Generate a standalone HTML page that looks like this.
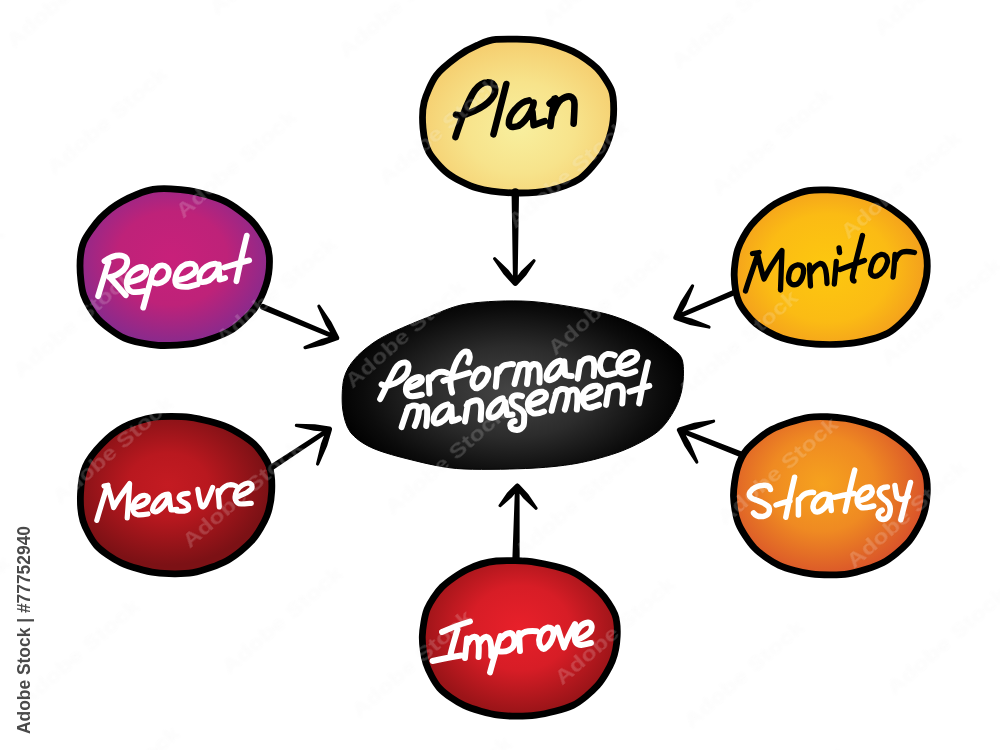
<!DOCTYPE html><html><head><meta charset="utf-8"><style>html,body{margin:0;padding:0;background:#fff;width:1000px;height:750px;overflow:hidden}</style></head><body><svg width="1000" height="750" viewBox="0 0 1000 750" style="display:block;font-family:'Liberation Sans',sans-serif"><defs><radialGradient id="g_plan" gradientUnits="userSpaceOnUse" cx="0" cy="0" r="1" gradientTransform="translate(520 128) scale(110 92)"><stop offset="0" stop-color="#f8ef9e"/><stop offset="0.5" stop-color="#f7e38b"/><stop offset="1" stop-color="#f5cc6c"/></radialGradient><radialGradient id="g_repeat" gradientUnits="userSpaceOnUse" cx="0" cy="0" r="1" gradientTransform="translate(172 258) scale(100 85)"><stop offset="0" stop-color="#c8207a"/><stop offset="0.55" stop-color="#be2279"/><stop offset="1" stop-color="#8a2a8c"/></radialGradient><radialGradient id="g_monitor" gradientUnits="userSpaceOnUse" cx="0" cy="0" r="1" gradientTransform="translate(828 268) scale(105 90)"><stop offset="0" stop-color="#fdc80f"/><stop offset="0.6" stop-color="#fbbb14"/><stop offset="1" stop-color="#f29a1f"/></radialGradient><radialGradient id="g_measure" gradientUnits="userSpaceOnUse" cx="0" cy="0" r="1" gradientTransform="translate(168 485) scale(100 80)"><stop offset="0" stop-color="#c41b22"/><stop offset="0.4" stop-color="#b9181f"/><stop offset="1" stop-color="#7c1115"/></radialGradient><radialGradient id="g_strategy" gradientUnits="userSpaceOnUse" cx="0" cy="0" r="1" gradientTransform="translate(822 484) scale(105 95)"><stop offset="0" stop-color="#f6a21e"/><stop offset="0.5" stop-color="#ef8a22"/><stop offset="1" stop-color="#d9532a"/></radialGradient><radialGradient id="g_improve" gradientUnits="userSpaceOnUse" cx="0" cy="0" r="1" gradientTransform="translate(520 628) scale(100 85)"><stop offset="0" stop-color="#e8202a"/><stop offset="0.5" stop-color="#d71d26"/><stop offset="1" stop-color="#9a1418"/></radialGradient><radialGradient id="g_c" gradientUnits="userSpaceOnUse" cx="0" cy="0" r="1" gradientTransform="translate(512 392) scale(180 100)"><stop offset="0" stop-color="#454545"/><stop offset="0.45" stop-color="#2c2c2c"/><stop offset="0.82" stop-color="#0c0c0c"/><stop offset="1" stop-color="#000"/></radialGradient><filter id="wmf" x="-20%" y="-100%" width="140%" height="300%"><feGaussianBlur in="SourceAlpha" stdDeviation="1.3" result="b"/><feComposite in="b" in2="SourceAlpha" operator="out" result="o"/><feComponentTransfer in="o" result="sh"><feFuncA type="linear" slope="0.22"/></feComponentTransfer><feFlood flood-color="#000"/><feComposite in2="sh" operator="in" result="shc"/><feMerge><feMergeNode in="shc"/><feMergeNode in="SourceGraphic"/></feMerge></filter></defs><rect width="1000" height="750" fill="#fff"/><path d="M496.1,39.4 C504.4,38.8 529.1,39.0 539.3,40.6 C549.5,42.2 565.2,47.7 572.9,51.4 C580.6,55.1 591.8,63.1 596.9,68.2 C602.0,73.3 609.1,84.4 611.3,89.8 C613.5,95.2 613.7,103.6 613.7,109.0 C613.7,114.4 612.9,124.4 611.3,130.5 C609.7,136.6 605.9,148.1 601.7,154.5 C597.5,160.9 587.1,173.7 580.1,178.5 C573.1,183.3 557.9,188.6 548.9,190.5 C539.9,192.4 522.5,193.2 512.9,192.9 C503.3,192.6 485.6,190.7 477.0,188.1 C468.4,185.5 454.6,178.5 448.2,173.7 C441.8,168.9 432.4,158.2 429.0,152.1 C425.6,146.0 423.6,134.8 423.0,128.1 C422.4,121.4 422.4,108.8 424.2,101.8 C426.0,94.8 431.7,81.5 436.2,75.4 C440.7,69.3 452.4,60.2 457.8,56.2 C463.2,52.2 471.9,47.6 477.0,45.4 C482.1,43.2 487.8,40.0 496.1,39.4Z" fill="url(#g_plan)" stroke="#000" stroke-width="6.8" stroke-linejoin="round"/><path d="M153.1,189.4 C162.0,188.0 179.5,189.0 189.1,190.6 C198.7,192.2 216.8,197.4 225.1,201.4 C233.4,205.4 246.1,215.2 251.5,220.6 C256.9,226.0 263.5,236.8 265.9,242.2 C268.3,247.6 269.5,255.7 269.5,261.4 C269.5,267.1 268.0,278.9 265.9,285.3 C263.8,291.7 258.7,303.2 253.9,309.3 C249.1,315.4 237.6,326.4 229.9,330.9 C222.2,335.4 205.9,341.0 196.3,342.9 C186.7,344.8 167.6,345.9 158.0,345.3 C148.4,344.7 132.4,341.6 124.4,338.1 C116.4,334.6 103.4,324.7 98.0,318.9 C92.6,313.1 86.0,301.9 83.6,294.9 C81.2,287.9 80.0,273.1 80.0,266.1 C80.0,259.1 80.9,248.6 83.6,242.2 C86.3,235.8 95.3,223.6 100.4,218.2 C105.5,212.8 115.0,205.2 122.0,201.4 C129.0,197.6 144.2,190.8 153.1,189.4Z" fill="url(#g_repeat)" stroke="#000" stroke-width="6.8" stroke-linejoin="round"/><path d="M808.5,190.6 C818.1,189.0 837.0,190.0 846.9,191.8 C856.8,193.6 874.6,199.6 882.9,203.8 C891.2,208.0 903.9,217.6 909.3,223.0 C914.7,228.4 921.3,238.9 923.7,244.6 C926.1,250.3 927.3,260.4 927.3,266.1 C927.3,271.8 925.8,281.6 923.7,287.7 C921.6,293.8 916.5,305.6 911.7,311.7 C906.9,317.8 895.4,329.1 887.7,333.3 C880.0,337.5 863.7,341.5 854.1,342.9 C844.5,344.3 825.3,344.7 815.7,344.1 C806.1,343.5 790.2,340.8 782.2,338.1 C774.2,335.4 761.6,328.5 755.8,323.7 C750.0,318.9 741.9,308.5 739.0,302.1 C736.1,295.7 734.4,282.7 734.2,275.7 C734.0,268.7 735.6,256.1 737.8,249.4 C740.0,242.7 746.0,231.5 751.0,225.4 C756.0,219.3 767.3,208.4 775.0,203.8 C782.7,199.2 798.9,192.2 808.5,190.6Z" fill="url(#g_monitor)" stroke="#000" stroke-width="6.8" stroke-linejoin="round"/><path d="M153.3,417.3 C162.2,416.0 180.4,416.0 190.3,417.3 C200.2,418.6 218.7,423.5 227.3,427.1 C235.9,430.7 248.9,439.1 254.5,444.4 C260.1,449.7 267.0,460.3 269.3,466.6 C271.6,472.9 272.0,484.7 271.7,491.3 C271.4,497.9 269.4,509.4 266.8,516.0 C264.2,522.6 257.3,534.7 252.0,540.6 C246.7,546.5 235.2,556.1 227.3,560.4 C219.4,564.7 202.3,571.1 192.8,572.7 C183.3,574.3 165.3,574.0 155.8,572.7 C146.3,571.4 129.1,566.4 121.2,562.8 C113.3,559.2 101.6,551.2 96.5,545.6 C91.4,540.0 85.1,527.8 83.0,520.9 C80.9,514.0 80.2,501.0 80.5,493.8 C80.8,486.6 82.6,473.2 85.4,466.6 C88.2,460.0 96.4,449.7 101.5,444.4 C106.6,439.1 116.8,430.7 123.7,427.1 C130.6,423.5 144.4,418.6 153.3,417.3Z" fill="url(#g_measure)" stroke="#000" stroke-width="6.8" stroke-linejoin="round"/><path d="M808.8,417.3 C818.7,415.8 835.9,416.9 845.8,418.5 C855.7,420.1 874.3,425.5 882.8,429.6 C891.3,433.7 904.3,443.7 909.9,449.3 C915.5,454.9 922.4,465.7 924.7,471.6 C927.0,477.5 927.5,487.6 927.2,493.8 C926.9,500.0 924.9,511.8 922.3,518.4 C919.7,525.0 912.8,537.2 907.5,543.1 C902.2,549.0 890.7,558.7 882.8,562.8 C874.9,566.9 857.7,572.4 848.2,573.9 C838.7,575.4 820.4,575.0 811.2,573.9 C802.0,572.8 786.8,568.8 779.2,565.3 C771.6,561.8 759.9,553.6 754.5,548.0 C749.1,542.4 741.2,530.3 738.4,523.4 C735.6,516.5 733.7,503.4 733.5,496.2 C733.3,489.0 735.4,475.4 737.2,469.1 C739.0,462.8 742.5,454.6 747.1,449.3 C751.7,444.0 763.5,433.9 771.7,429.6 C779.9,425.3 798.9,418.8 808.8,417.3Z" fill="url(#g_strategy)" stroke="#000" stroke-width="6.8" stroke-linejoin="round"/><path d="M496.3,561.0 C505.5,560.0 525.6,560.8 535.8,562.3 C546.0,563.8 564.3,568.2 572.8,572.1 C581.3,576.0 594.3,586.3 599.9,591.9 C605.5,597.5 612.4,608.2 614.7,614.1 C617.0,620.0 617.5,630.0 617.2,636.3 C616.9,642.6 614.9,654.4 612.3,661.0 C609.7,667.6 602.8,679.7 597.5,685.6 C592.2,691.5 581.0,701.5 572.8,705.4 C564.6,709.3 545.7,713.9 535.8,715.2 C525.9,716.5 508.3,716.5 498.8,715.2 C489.3,713.9 472.1,709.0 464.2,705.4 C456.3,701.8 444.6,693.7 439.5,688.1 C434.4,682.5 428.3,670.3 426.0,663.4 C423.7,656.5 422.1,643.5 422.3,636.3 C422.5,629.1 424.6,615.7 427.2,609.1 C429.8,602.5 436.7,592.3 442.0,587.0 C447.3,581.7 459.5,573.2 466.7,569.7 C473.9,566.2 487.1,562.0 496.3,561.0Z" fill="url(#g_improve)" stroke="#000" stroke-width="6.8" stroke-linejoin="round"/><path d="M343.9,378.7 C345.8,371.1 349.8,364.5 355.3,358.4 C360.8,352.3 370.1,344.3 380.7,338.2 C391.3,332.1 413.4,323.0 426.3,317.9 C439.2,312.8 451.3,306.4 466.9,303.9 C482.5,301.4 509.8,300.1 530.0,301.4 C550.2,302.7 584.6,308.8 601.4,312.8 C618.2,316.8 631.4,322.7 642.0,328.0 C652.6,333.3 666.3,343.4 672.4,348.3 C678.5,353.2 681.0,355.3 682.5,361.0 C684.0,366.7 683.6,379.1 682.5,386.3 C681.4,393.5 678.7,402.2 674.9,409.1 C671.1,416.0 665.2,425.7 657.2,432.0 C649.2,438.3 633.9,446.3 621.7,451.0 C609.5,455.7 590.5,460.9 576.0,463.5 C561.5,466.1 543.2,467.8 525.3,468.5 C507.4,469.2 474.6,470.0 456.7,468.5 C438.8,467.0 418.9,461.7 406.0,458.5 C393.1,455.3 379.0,451.2 370.6,447.2 C362.2,443.2 354.5,437.7 350.3,432.0 C346.1,426.3 343.7,417.1 342.7,409.1 C341.7,401.1 342.0,386.3 343.9,378.7Z" fill="url(#g_c)" stroke="#000" stroke-width="1"/><path d="M511.55,192.00 L513.00,283.30 A2.30,2.30 0 0 0 517.60,283.30 L519.05,192.00 A3.75,3.75 0 0 0 511.55,192.00ZM517.37,281.57 L508.56,270.11 A3.30,3.30 0 0 0 503.50,274.35 L513.23,285.03 A2.70,2.70 0 0 0 517.37,281.57ZM508.56,270.11 L495.93,257.67 A1.60,1.60 0 0 0 493.47,259.73 L503.50,274.35 A3.30,3.30 0 0 0 508.56,270.11ZM517.38,285.02 L526.26,275.23 A3.30,3.30 0 0 0 521.17,271.03 L513.22,281.58 A2.70,2.70 0 0 0 517.38,285.02ZM526.26,275.23 L535.23,261.72 A1.60,1.60 0 0 0 532.77,259.68 L521.17,271.03 A3.30,3.30 0 0 0 526.26,275.23Z" fill="#000"/><path d="M261.90,309.86 L335.61,339.82 A2.30,2.30 0 0 0 337.39,335.58 L264.30,304.14 A3.10,3.10 0 0 0 261.90,309.86ZM338.86,336.38 L331.46,321.92 A3.30,3.30 0 0 0 325.70,325.13 L334.14,339.02 A2.70,2.70 0 0 0 338.86,336.38ZM331.46,321.92 L320.30,305.42 A1.60,1.60 0 0 0 317.50,306.98 L325.70,325.13 A3.30,3.30 0 0 0 331.46,321.92ZM335.69,335.12 L321.34,339.01 A3.30,3.30 0 0 0 323.31,345.30 L337.31,340.28 A2.70,2.70 0 0 0 335.69,335.12ZM321.34,339.01 L304.52,346.07 A1.60,1.60 0 0 0 305.48,349.13 L323.31,345.30 A3.30,3.30 0 0 0 321.34,339.01Z" fill="#000"/><path d="M731.90,290.43 L675.09,315.29 A2.30,2.30 0 0 0 676.91,319.51 L734.10,295.57 A2.80,2.80 0 0 0 731.90,290.43ZM678.39,318.66 L686.39,304.71 A3.30,3.30 0 0 0 680.55,301.65 L673.61,316.14 A2.70,2.70 0 0 0 678.39,318.66ZM686.39,304.71 L694.02,286.54 A1.60,1.60 0 0 0 691.18,285.06 L680.55,301.65 A3.30,3.30 0 0 0 686.39,304.71ZM675.25,319.99 L689.93,324.89 A3.30,3.30 0 0 0 691.77,318.55 L676.75,314.81 A2.70,2.70 0 0 0 675.25,319.99ZM689.93,324.89 L708.55,328.54 A1.60,1.60 0 0 0 709.45,325.46 L691.77,318.55 A3.30,3.30 0 0 0 689.93,324.89Z" fill="#000"/><path d="M271.15,471.21 L330.57,431.22 A2.30,2.30 0 0 0 328.03,427.38 L267.85,466.19 A3.00,3.00 0 0 0 271.15,471.21ZM329.62,426.62 L314.88,424.27 A3.30,3.30 0 0 0 314.11,430.82 L328.98,431.98 A2.70,2.70 0 0 0 329.62,426.62ZM314.88,424.27 L296.59,423.81 A1.60,1.60 0 0 0 296.21,426.99 L314.11,430.82 A3.30,3.30 0 0 0 314.88,424.27ZM326.74,428.44 L320.91,443.86 A3.30,3.30 0 0 0 327.16,445.97 L331.86,430.16 A2.70,2.70 0 0 0 326.74,428.44ZM320.91,443.86 L316.08,463.49 A1.60,1.60 0 0 0 319.12,464.51 L327.16,445.97 A3.30,3.30 0 0 0 320.91,443.86Z" fill="#000"/><path d="M743.07,452.11 L680.45,427.86 A2.30,2.30 0 0 0 678.75,432.14 L740.93,457.49 A2.90,2.90 0 0 0 743.07,452.11ZM680.28,432.61 L695.73,429.23 A3.30,3.30 0 0 0 694.07,422.85 L678.92,427.39 A2.70,2.70 0 0 0 680.28,432.61ZM695.73,429.23 L714.00,422.75 A1.60,1.60 0 0 0 713.20,419.65 L694.07,422.85 A3.30,3.30 0 0 0 695.73,429.23ZM677.22,431.28 L684.43,445.96 A3.30,3.30 0 0 0 690.25,442.84 L681.98,428.72 A2.70,2.70 0 0 0 677.22,431.28ZM684.43,445.96 L695.39,462.76 A1.60,1.60 0 0 0 698.21,461.24 L690.25,442.84 A3.30,3.30 0 0 0 684.43,445.96Z" fill="#000"/><path d="M519.65,559.07 L519.60,486.34 A2.30,2.30 0 0 0 515.00,486.26 L512.35,558.93 A3.65,3.65 0 0 0 519.65,559.07ZM515.28,484.50 L507.05,492.83 A3.30,3.30 0 0 0 511.98,497.23 L519.32,488.10 A2.70,2.70 0 0 0 515.28,484.50ZM507.05,492.83 L498.81,504.64 A1.60,1.60 0 0 0 501.19,506.76 L511.98,497.23 A3.30,3.30 0 0 0 507.05,492.83ZM515.24,488.05 L523.20,498.34 A3.30,3.30 0 0 0 528.23,494.06 L519.36,484.55 A2.70,2.70 0 0 0 515.24,488.05ZM523.20,498.34 L534.78,509.34 A1.60,1.60 0 0 0 537.22,507.26 L528.23,494.06 A3.30,3.30 0 0 0 523.20,498.34Z" fill="#000"/><path d="M455.5,137 C458,129 461,121 463,115 C466,107 470,97 475,90 C479,85 483,82.5 487,82.3 C491,82 494,84 495,88 C496,93 493,98 488,102.5 C483,107 475,111 467,114 C462,115.5 459,115.5 456,114.7 M506.3,84 C502,101 497.5,118 493.5,134.3 M528.8,100.4 C524,101 519,104.5 515,109.5 C511,114 508.5,120 509,124.5 C510,127.5 514,127.5 518.4,126 C523,123.5 527,118.5 530.5,112 C532.5,108 533.8,104.5 533.6,102.5 M532.5,112 C533,117 533.3,121 533.6,125.2 C537,124 541,122.5 544.8,121.2 M554.4,98.8 C553,108 551.5,117 550.4,126 M549.6,103.6 L555.5,98.5 M552.8,114 C555,108 558,102 561,99.6 C564,97.5 567,96 570,96.5 C573,97.5 574.5,100 574.5,104 C574.5,110 574,117 573.6,123.6" fill="none" stroke="#000" stroke-width="6.6" stroke-linecap="round" stroke-linejoin="round"/><path d="M104.5,261 C108,258.5 112,256.5 116,255.6 C120,255 124.5,255.5 126.5,258.5 C128,262 127,266 123.5,270 C119,274 114,276.5 109.3,277.1 M108.5,262.3 C105,273 101.5,285 98.1,296.2 M110,277.5 C115,283 121,290 125.8,295.3 M128.4,282.3 C132,281.5 135,281 138,279.7 C141,278.5 144.5,276 145.8,273.6 C147,270.5 146,267.5 143,267 C139.5,266.8 135.5,268.5 132,271.5 C128.5,275 126.5,280 126.7,284 C127,288 129,291 132,291.8 C136,292.5 140,292 144,291 M153.2,270.8 C150,283 146.5,296 143.2,307.6 M153.6,272.4 C155.5,269 157,267 159.2,266 C162,265 165,265.5 167,267.5 C169.5,270 169.5,275 166.4,279 C163.5,282 160,283.5 156.5,283.5 C155,283.3 153.8,282.8 152.8,282 M176,280.4 C179.5,279.8 183,279 186.4,278 C189.5,276.5 193,274.5 195.2,271.6 C196.5,269 196,265.5 193,264 C189.5,263 185.5,264 182,266.5 C178.5,269.5 176,274 175.2,279.6 C175,283 176,285 178.4,286 C181.5,287 185,287 188,286.8 C191.5,286.2 194.5,285.3 197.6,284.4 M215.6,263.6 C212,264 208.5,265 206,266.8 C203,269 200.5,272.5 199.6,275.6 C199,279 199.5,281.5 201.2,282 C204,282.5 207,281.5 209.2,280.4 C212.5,278 215.5,274.5 217.2,271.6 C218.5,269 218.8,266.5 218.8,264.4 C219,269.5 219.3,274.5 219.6,279.6 C221.5,279.2 223.5,278.5 225.2,278 M246.8,235.6 C243,251 239.5,266 236.4,281.2 M224.4,267.6 C232.5,265 240.5,262.5 249.2,260.4" fill="none" stroke="#fff" stroke-width="5.8" stroke-linecap="round" stroke-linejoin="round"/><path d="M752.5,253.5 L759,252.5 M758,253.5 C754,266 749,279 745.5,291 M757.5,253.5 C759.5,262 761.5,271 764,279 C769,269 776,258 782,250.5 C781.5,264 781,277 780.5,290 M797,265 C792,266 789,271 788.5,278 C788.5,284 793,286 797.5,284 C802,281 804,274 803.5,269 C802.5,265.5 800,264.5 797,265 M809.5,265 C809.8,272 810,279 810.5,286 M810.5,273 C813,268 816,265 820,263.5 C825,263 826.5,270 827,283.5 M836.3,261.5 C835.8,269 835,276 834.3,284 M839,247.8 L839.6,252.5 M862.5,235.5 C859,249 855,264 852.5,276 C852,280 853,281 854,281 M840,269.5 C848,266.5 856,263.5 864.5,260.5 M881,254.5 C876,255.5 872,261 870.5,270 C870,275 873,277 877,276 C882,274 886,268 887.5,262 C888,257 885,254 881,254.5 M895,254.5 C894.5,262 894,269 893,277 M895.5,260 C897,256 899.5,253 902.5,252 C906,251 910,251.5 914.5,252.5" fill="none" stroke="#000" stroke-width="5.3" stroke-linecap="round" stroke-linejoin="round"/><path d="M104,486 L108,485.2 M107.2,486 C104,497 100,509 96.8,520.4 M108,486.8 C110,494 112,501 113.6,507.6 C118,499 124,491 129.6,483.6 C129,495 128,507 127.2,518 M134.4,507.6 C138,507 141,506 144,504.4 C147,502.5 149,500 148,497 C146.5,495 143.5,495 140,496.5 C136,499 133,503 132.8,508.4 C133,512 135,514.5 138,514.8 C142,515 145,514.5 148,514 M168.2,494.2 C164,494.5 161,496 158,499.5 C155,503 152.5,507 152.5,510 C153,512 155.5,512.5 158,511 C163,508 167,502 169,495 C169.5,500 170,505 171,510 C173,510 175,509.6 177,509.4 M188.2,493.4 C185,493.5 182,494 180,495.5 C178,498 179.5,500.5 183.4,502.2 C187,503.5 189,506 188.5,509 C187.5,511 183,511.5 177,511 M197.8,489.4 C198.5,494 199.5,500 201,505.5 C202.5,508 204.5,506.5 206,503.5 C208.5,498 211,492 212.6,487.5 M218,490.5 C218.5,496 219,501 219.3,507 M219.3,493.7 C221,490 223,487.5 225.1,486.6 C227,485 229,484.7 230.8,484.7 C233,484.8 234.5,485.3 236,486 M237.2,496.9 C240,496 243,494.5 246.2,493 C249,491 251.5,489.5 252,487.9 C252.5,485 251,483 248,483 C244,483.5 240,486 237,490.5 C235,494 234.5,497 235.5,500 C236.5,503 238.5,504 241,504 C244.5,504 248,503.6 251.3,503.3" fill="none" stroke="#fff" stroke-width="5.2" stroke-linecap="round" stroke-linejoin="round"/><path d="M770.5,489.5 C770,486 767,485 764,485.2 C759,485.5 753,487 750,492 C748,496 751,498.5 756,500 C761,502 766,503.5 768.8,507 C770.5,511.5 768.5,515.5 763,516.5 C758.5,517 755,515 753.5,513 M794.6,477.2 C791.5,490 788.5,504 785.8,517.2 M776,505 C780.5,503.5 785,502 790,501 M798.4,499.5 C798.4,505 798.4,510 798.4,515 M799,500 C801.5,496.5 804,494 806.8,493.2 C809.5,492.5 811.5,492.2 813.6,492.4 M828,494.5 C824,493 819,495.5 815.5,500 C812.5,504 812,509 815,511.5 C818.5,513 823,510 826.5,505.5 C828.5,502 829.5,498 829.8,495 C830.2,500 830.8,505 831.3,510.5 M854.7,470.1 C851,484 848,498 845.2,511.2 M834.2,497.3 C841,495.5 847,494.5 854,493.6 M857.7,500.9 C862,500 866,499 868,497.3 C872,494.5 874,491 870.1,487 C866,486.5 861,489 858,495 C856.5,500 857,505 861.3,507.5 C865,508.5 869,507 873.8,506 M887.4,486.9 C884,487 880,488 879.2,492 C879,496 883,498.5 886.6,501.1 C890,504 891,509 889.5,514 C888,519 884,520.5 880,518.5 C877,516 877.5,512 882.2,510.1 M894.9,485.4 C895.5,490 896,494 897.1,497.4 C899,499.5 902,499.6 904,498.8 C906,498 907,497.3 908.3,496.6 M910.5,482.5 C907,495 904,507 900.8,519.8" fill="none" stroke="#fff" stroke-width="5.5" stroke-linecap="round" stroke-linejoin="round"/><path d="M442,632 C451,628 461,624 470,621.5 M457.5,629.5 C455,638 452.5,646 450.5,654.5 M432.5,661 C442,659 452,657 461,655.5 M467,638.5 C466.5,645 465.5,652 465,658 M467.8,643 C469.5,639 471.5,637 474.5,636.8 C478.5,637 479.5,642 478.5,657 M479.5,643 C481.5,639 483.5,637 486.5,636.8 C490.5,637.5 491.5,644 491.2,656 M500.5,636 C497,648 493,661 490,672.5 M501.5,638 C504,635 507,633 510,633 C514.5,634 515.5,641 513.5,646 C511,650 506,652 500,651.5 M519,633 C519.5,639 519.5,645 520,651 M519,637.5 C521,634 524,631.5 528,631.2 C531,631 534,631 536.5,631.2 M548,627.5 C543,628.5 540,633 539,640 C539,646 542,650 545,648.5 C549,646 552,641 553.5,635 C554,630 552,627.5 548,627.5 M557.5,627.5 C559.5,634 561.5,641 564,647.5 C567,639 571,631 575,624 M576.5,640 C581,638.5 586,636 590,632 C593,628 592,623 588,622.5 C582,623 577,629 575,636 C574,642 577,645 581,645 C585,644.5 588,643.5 591,643" fill="none" stroke="#fff" stroke-width="5.9" stroke-linecap="round" stroke-linejoin="round"/><path d="M380.1,399.1 C384,392 390,378 395.5,368.3 C398,364.5 402,362 405.8,362.5 C409,363.5 409.5,368 406.5,374.2 C403,379 396,383.5 389.7,385.2 C386,386 383.5,385.5 381.6,384.5 M408,388.1 C412,387 415,386 417.5,384.5 C420,383 422,381 421.9,379.3 C421.5,377 419,376.5 416,377.5 C412,379 408,382 406.5,385.9 C405.5,389 406,393 408.5,395.5 C412,397 417,396 421.9,394.7 M428.7,377.3 C429,383 429.2,388 429.4,393.4 M430.9,378.7 C433,375 435,373.5 437.5,372.5 C440,371.5 443,371.2 447,372.9 M468.3,362.6 C470,359 470.5,355 468,352 C465,350.5 461.5,353 459,357.5 C456,362 452.5,372 450.7,379.5 C450,384 451,389 452.1,392.7 M443.3,380.9 C452,378 460,375.5 469,372.9 M481.9,368.5 C477,369.5 474,375 472.5,381 C472,386 474.5,388.5 477.5,388.2 C481,387.5 486,382 488,376 C489,372 487.5,368.5 481.9,368.5 M497.3,369.2 C497,375 496.5,381 495.8,386.8 M498.7,372.1 C500.5,368.5 502.5,366 505,365.2 C508,364.2 511,364 513,364.2 M519.7,364.9 C518,371 516,378 514.5,384 M518.2,369.3 C519.5,366 521,364.5 523,364 C526,363.5 528,364.5 528.5,367 C528.5,372 528,378 527,384 M529.2,369.3 C530.5,366 532,364.5 534,364 C537,363.8 539,365 539.5,369 C539.8,374 539.7,378 539.5,382.5 M560.3,360.7 C556,361.5 553,363.5 550,368 C547,372 546,376 547,379 C548.5,381 552,380 556,377 C559.5,373.5 562.5,367 564.3,361.3 C564.5,366 564.8,370.5 565,374.7 C567,375.5 569.5,376 571.7,376 M580.3,362 C579.5,367.5 578.5,373 577.7,378.7 M579.7,366.7 C581,363 583,360 585.5,359 C588,358 591,358 593,359.5 C594.5,362 594.5,368 593.7,376 M614.7,355.3 C612.5,354 610,353.8 607.3,354 C604,355 601.5,358 600.5,362 C599.5,366 600.5,371 603.3,374 C606,375.5 610,375 614.7,373.3 M619.3,366.7 C622,366 625,365.5 627.3,364.7 C631,363 634.5,361 636,359.3 C638,357 637.5,353.5 634.5,352.5 C631,351.5 627,352.5 623,356 C619.5,359.5 618,363 618.3,367 C618.5,371 621,373.5 625.3,374 C629,374 632.5,372.5 635.3,371.3" fill="none" stroke="#fff" stroke-width="6.0" stroke-linecap="round" stroke-linejoin="round"/><path d="M408.2,407.4 C406,414 403.5,421 401.6,427.2 M407,409.8 C408.5,407.5 410,406.3 412,405.8 C414.5,405.3 417,405.5 418.5,407.5 C419.5,411 418,419 414.8,426 M419,410.4 C420,408 421.5,406.5 423.5,406.2 C425.5,406 427,407 427.2,409.8 C427.3,415 427,421 426.2,426 M447.8,404.4 C444,405 440,407.5 437,411 C434,415 433,419 434,422 C435.5,424.5 440,423.5 444.2,420 C447.5,417 450,413 451.4,406.8 C451.6,412 451.8,416.5 452,421.2 C455,420.5 457,419.5 459,418.6 M468,403 C467,409 466,415.5 465,421.6 M466.8,405.4 C468.5,403 470.5,401.5 472.8,401 C475,400.3 477.5,400 479,401 C481,402.5 481.5,406 481.2,410 C481,414 480.8,417 480.6,419.8 M502.8,398.2 C499,399 495.5,401.5 492,405.5 C489,409.5 488,414 489,416.8 C490.5,418.5 494,418 497.5,415.5 C501,412.5 504,407 505.2,401.8 C505.8,406 506.3,411 507,415 C509,414.8 511,414.6 512.5,414.5 M522,396.1 C519,395.2 516,395 514,396 C511,397.5 510.5,401 513.2,404.9 C515.5,407 519,408 520.5,409.3 C523.5,411.5 524.5,414 524.2,417 C524.2,421 524,424 523.5,425.5 C522,428.5 519.5,430 516.9,429.9 C513,429.8 510.5,428.5 510.3,425.5 C510.3,423 512,421.3 514.7,421.1 M530.8,404.9 C533,404 535.5,403.5 538.1,402.7 C541,401.5 544,399.5 545.5,397.6 C546.5,395 546,392.5 543,391.8 C539.5,391.2 536,392.5 533,395 C529.5,398 527.5,401.5 527.9,404.9 C528,409 530,412 533,413.3 C536.5,414.3 540.5,413 544,411.5 M557,391 C555,397.5 553,404 551.6,410.8 M555.8,393.4 C557.5,391 559.5,389.5 561.5,389 C563.5,388.8 566,389 567.5,391 C568.5,394 567.5,401 564.8,409.6 M567.8,394 C569,391.5 570.5,390 572.5,389.6 C574.5,389.3 576.5,390 577.2,392.5 C577.8,397 577.5,403 576.8,409.6 M584,398.8 C587,398 590,397.5 593,396.4 C596,395 599,393.5 600.2,391.6 C601,389.5 600.5,386.5 597.5,385.8 C594,385.3 590,386.5 587,389 C584,391.5 582.5,395 582.8,397.6 C582.8,401.5 583.5,404.5 585.5,406.5 C588,408 591,408 594,406.5 C596,405.8 597.5,405.3 599,404.8 M609,387.3 C608,393 607,399 606.1,404.9 M608.3,390.2 C609.8,388 611.8,386.3 614.1,385.8 C616.5,385 619,385 620.5,386 C622.5,387.5 623,390 622.9,393 C622.8,397 622.5,400.5 622.2,403.4 M647.9,362.3 C644.5,376 641.5,390 639.1,403.4 M629.5,391.7 C636,389.5 643,387.5 649.3,385.8" fill="none" stroke="#fff" stroke-width="6.0" stroke-linecap="round" stroke-linejoin="round"/><g font-size="20" font-weight="bold" fill="#fff" fill-opacity="0.17" filter="url(#wmf)"><text x="-136.4" y="867.8" transform="rotate(-41 -136.4 867.8)" textLength="152" lengthAdjust="spacingAndGlyphs">Adobe Stock</text><text x="-142.7" y="538.2" transform="rotate(-41 -142.7 538.2)" textLength="152" lengthAdjust="spacingAndGlyphs">Adobe Stock</text><text x="-102.7" y="665.0" transform="rotate(-41 -102.7 665.0)" textLength="152" lengthAdjust="spacingAndGlyphs">Adobe Stock</text><text x="26.6" y="708.2" transform="rotate(-41 26.6 708.2)" textLength="152" lengthAdjust="spacingAndGlyphs">Adobe Stock</text><text x="66.6" y="835.0" transform="rotate(-41 66.6 835.0)" textLength="152" lengthAdjust="spacingAndGlyphs">Adobe Stock</text><text x="195.9" y="878.2" transform="rotate(-41 195.9 878.2)" textLength="152" lengthAdjust="spacingAndGlyphs">Adobe Stock</text><text x="-109.0" y="335.4" transform="rotate(-41 -109.0 335.4)" textLength="152" lengthAdjust="spacingAndGlyphs">Adobe Stock</text><text x="20.3" y="378.6" transform="rotate(-41 20.3 378.6)" textLength="152" lengthAdjust="spacingAndGlyphs">Adobe Stock</text><text x="60.3" y="505.4" transform="rotate(-41 60.3 505.4)" textLength="152" lengthAdjust="spacingAndGlyphs">Adobe Stock</text><text x="189.6" y="548.6" transform="rotate(-41 189.6 548.6)" textLength="152" lengthAdjust="spacingAndGlyphs">Adobe Stock</text><text x="229.6" y="675.4" transform="rotate(-41 229.6 675.4)" textLength="152" lengthAdjust="spacingAndGlyphs">Adobe Stock</text><text x="358.9" y="718.6" transform="rotate(-41 358.9 718.6)" textLength="152" lengthAdjust="spacingAndGlyphs">Adobe Stock</text><text x="398.9" y="845.4" transform="rotate(-41 398.9 845.4)" textLength="152" lengthAdjust="spacingAndGlyphs">Adobe Stock</text><text x="-115.3" y="5.8" transform="rotate(-41 -115.3 5.8)" textLength="152" lengthAdjust="spacingAndGlyphs">Adobe Stock</text><text x="14.0" y="49.0" transform="rotate(-41 14.0 49.0)" textLength="152" lengthAdjust="spacingAndGlyphs">Adobe Stock</text><text x="54.0" y="175.8" transform="rotate(-41 54.0 175.8)" textLength="152" lengthAdjust="spacingAndGlyphs">Adobe Stock</text><text x="183.3" y="219.0" transform="rotate(-41 183.3 219.0)" textLength="152" lengthAdjust="spacingAndGlyphs">Adobe Stock</text><text x="223.3" y="345.8" transform="rotate(-41 223.3 345.8)" textLength="152" lengthAdjust="spacingAndGlyphs">Adobe Stock</text><text x="352.6" y="389.0" transform="rotate(-41 352.6 389.0)" textLength="152" lengthAdjust="spacingAndGlyphs">Adobe Stock</text><text x="392.6" y="515.8" transform="rotate(-41 392.6 515.8)" textLength="152" lengthAdjust="spacingAndGlyphs">Adobe Stock</text><text x="521.9" y="559.0" transform="rotate(-41 521.9 559.0)" textLength="152" lengthAdjust="spacingAndGlyphs">Adobe Stock</text><text x="561.9" y="685.8" transform="rotate(-41 561.9 685.8)" textLength="152" lengthAdjust="spacingAndGlyphs">Adobe Stock</text><text x="691.2" y="729.0" transform="rotate(-41 691.2 729.0)" textLength="152" lengthAdjust="spacingAndGlyphs">Adobe Stock</text><text x="731.2" y="855.8" transform="rotate(-41 731.2 855.8)" textLength="152" lengthAdjust="spacingAndGlyphs">Adobe Stock</text><text x="217.0" y="16.2" transform="rotate(-41 217.0 16.2)" textLength="152" lengthAdjust="spacingAndGlyphs">Adobe Stock</text><text x="346.3" y="59.4" transform="rotate(-41 346.3 59.4)" textLength="152" lengthAdjust="spacingAndGlyphs">Adobe Stock</text><text x="386.3" y="186.2" transform="rotate(-41 386.3 186.2)" textLength="152" lengthAdjust="spacingAndGlyphs">Adobe Stock</text><text x="515.6" y="229.4" transform="rotate(-41 515.6 229.4)" textLength="152" lengthAdjust="spacingAndGlyphs">Adobe Stock</text><text x="555.6" y="356.2" transform="rotate(-41 555.6 356.2)" textLength="152" lengthAdjust="spacingAndGlyphs">Adobe Stock</text><text x="684.9" y="399.4" transform="rotate(-41 684.9 399.4)" textLength="152" lengthAdjust="spacingAndGlyphs">Adobe Stock</text><text x="724.9" y="526.2" transform="rotate(-41 724.9 526.2)" textLength="152" lengthAdjust="spacingAndGlyphs">Adobe Stock</text><text x="854.2" y="569.4" transform="rotate(-41 854.2 569.4)" textLength="152" lengthAdjust="spacingAndGlyphs">Adobe Stock</text><text x="894.2" y="696.2" transform="rotate(-41 894.2 696.2)" textLength="152" lengthAdjust="spacingAndGlyphs">Adobe Stock</text><text x="1023.5" y="739.4" transform="rotate(-41 1023.5 739.4)" textLength="152" lengthAdjust="spacingAndGlyphs">Adobe Stock</text><text x="549.3" y="26.6" transform="rotate(-41 549.3 26.6)" textLength="152" lengthAdjust="spacingAndGlyphs">Adobe Stock</text><text x="678.6" y="69.8" transform="rotate(-41 678.6 69.8)" textLength="152" lengthAdjust="spacingAndGlyphs">Adobe Stock</text><text x="718.6" y="196.6" transform="rotate(-41 718.6 196.6)" textLength="152" lengthAdjust="spacingAndGlyphs">Adobe Stock</text><text x="847.9" y="239.8" transform="rotate(-41 847.9 239.8)" textLength="152" lengthAdjust="spacingAndGlyphs">Adobe Stock</text><text x="887.9" y="366.6" transform="rotate(-41 887.9 366.6)" textLength="152" lengthAdjust="spacingAndGlyphs">Adobe Stock</text><text x="1017.2" y="409.8" transform="rotate(-41 1017.2 409.8)" textLength="152" lengthAdjust="spacingAndGlyphs">Adobe Stock</text><text x="881.6" y="37.0" transform="rotate(-41 881.6 37.0)" textLength="152" lengthAdjust="spacingAndGlyphs">Adobe Stock</text><text x="1010.9" y="80.2" transform="rotate(-41 1010.9 80.2)" textLength="152" lengthAdjust="spacingAndGlyphs">Adobe Stock</text></g><text x="0" y="0" font-size="18" font-weight="bold" fill="#4a4a4a" transform="translate(30 734) rotate(-90)" textLength="208" lengthAdjust="spacingAndGlyphs">Adobe Stock | #77752940</text></svg></body></html>
